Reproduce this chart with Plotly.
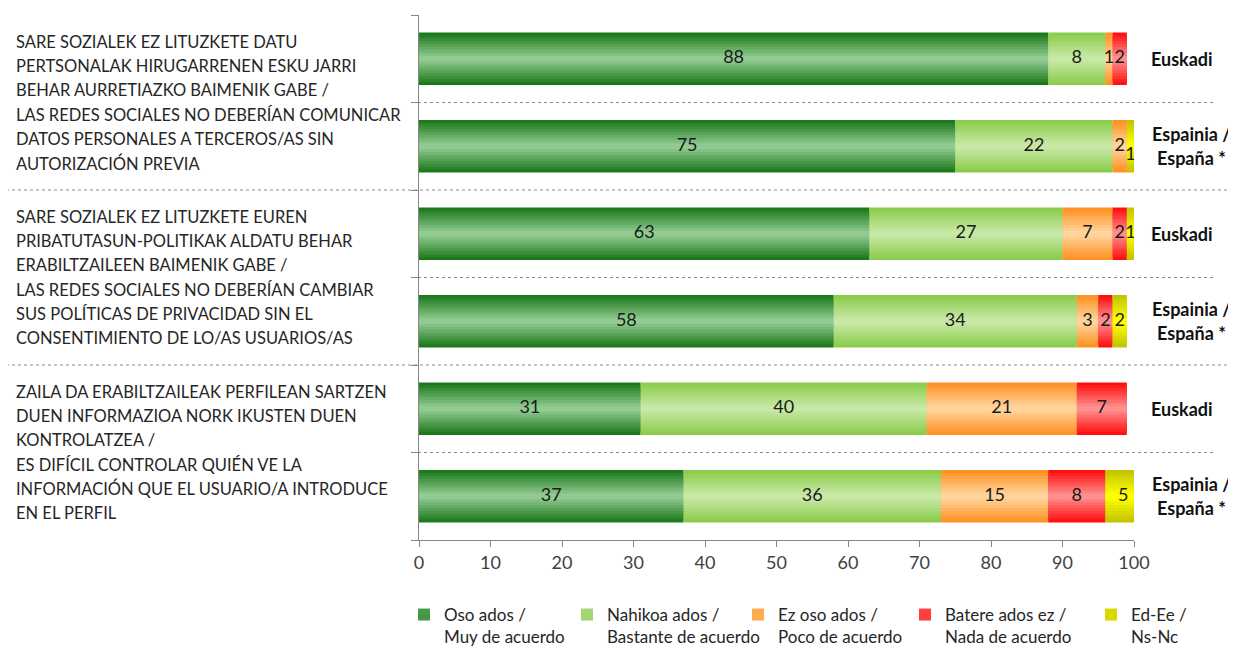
import numpy as np
import plotly.graph_objects as go

# ─────────────────────────────────────────────────────────────
# Data
# ─────────────────────────────────────────────────────────────
row_labels = ["Euskadi", "Espainia /<br>España *",
              "Euskadi", "Espainia /<br>España *",
              "Euskadi", "Espainia /<br>España *"]

question_lines = [
    ["SARE SOZIALEK EZ LITUZKETE DATU",
     "PERTSONALAK HIRUGARRENEN ESKU JARRI",
     "BEHAR AURRETIAZKO BAIMENIK GABE /",
     "LAS REDES SOCIALES NO DEBERÍAN COMUNICAR",
     "DATOS PERSONALES A TERCEROS/AS SIN",
     "AUTORIZACIÓN PREVIA"],
    ["SARE SOZIALEK EZ LITUZKETE EUREN",
     "PRIBATUTASUN-POLITIKAK ALDATU BEHAR",
     "ERABILTZAILEEN BAIMENIK GABE /",
     "LAS REDES SOCIALES NO DEBERÍAN CAMBIAR",
     "SUS POLÍTICAS DE PRIVACIDAD SIN EL",
     "CONSENTIMIENTO DE LO/AS USUARIOS/AS"],
    ["ZAILA DA ERABILTZAILEAK PERFILEAN SARTZEN",
     "DUEN INFORMAZIOA NORK IKUSTEN DUEN",
     "KONTROLATZEA /",
     "ES DIFÍCIL CONTROLAR QUIÉN VE LA",
     "INFORMACIÓN QUE EL USUARIO/A INTRODUCE",
     "EN EL PERFIL"],
]

series_names = ["Oso ados /<br>Muy de acuerdo",
                "Nahikoa ados /<br>Bastante de acuerdo",
                "Ez oso ados /<br>Poco de acuerdo",
                "Batere ados ez /<br>Nada de acuerdo",
                "Ed-Ee /<br>Ns-Nc"]

oso_ados = [88, 75, 63, 58, 31, 37]
nahikoa_ados = [8, 22, 27, 34, 40, 36]
ez_oso_ados = [1, 2, 7, 3, 21, 15]
batere_ados_ez = [2, 0, 2, 2, 7, 8]
ed_ee = [0, 1, 1, 2, 0, 5]

x_ticks = [0, 10, 20, 30, 40, 50, 60, 70, 80, 90, 100]

# ─────────────────────────────────────────────────────────────
# Style
# ─────────────────────────────────────────────────────────────
FONT = "Lato, 'Open Sans', sans-serif"
TEXT = "#262626"
AXIS = "#868686"
BAR_W = 0.6
LAYERS = 9

# (edge colour, centre colour) to fake Excel's gradient fill
COLORS = [
    ((28, 122, 28), (146, 202, 146)),
    ((140, 204, 76), (200, 232, 166)),
    ((255, 146, 36), (255, 212, 156)),
    ((255, 16, 16), (255, 142, 142)),
    ((196, 196, 0), (255, 255, 0)),
]
# screen x of each legend swatch
LEGEND_X = [420, 583, 754, 921, 1107]

# page body has an 8px margin -> work in screen px and shift
OFF = 8
W, H = 1236 - OFF, 650 - OFF
L, T = 419 - OFF, 15 - OFF
R, B = W - (1134 - OFF), H - (540 - OFF)
PW, PH = W - L - R, H - T - B


def mix(a, b, t):
    return "rgb({},{},{})".format(*[round(a[i] + (b[i] - a[i]) * t) for i in range(3)])


def px_x(px):
    return (px - OFF - L) / PW


def px_y(py):
    return 1 - (py - OFF - T) / PH


def legend_id(s):
    return "legend" if s == 0 else f"legend{s + 1}"


values = np.array([oso_ados, nahikoa_ados, ez_oso_ados, batere_ados_ez, ed_ee])
starts = np.vstack([np.zeros(values.shape[1]), np.cumsum(values, axis=0)[:-1]])
rows = list(range(len(row_labels)))

fig = go.Figure()

for k in range(LAYERS):
    t = k / (LAYERS - 1)
    for s, name in enumerate(series_names):
        fig.add_trace(go.Bar(
            y=rows, x=values[s], base=starts[s],
            orientation="h",
            width=BAR_W * (1 - k / LAYERS),
            marker=dict(color=mix(*COLORS[s], t), line=dict(width=0)),
            name=name,
            legend=legend_id(s),
            showlegend=(k == 3),
            hoverinfo="skip",
        ))

# value labels
for s in range(len(series_names)):
    mids = starts[s] + values[s] / 2
    txt = [str(v) if v > 0 else "" for v in values[s]]
    pos = ["middle center"] * len(rows)
    if s == 4:
        pos[1] = "bottom center"   # Excel pushes the squeezed "1" down
    fig.add_trace(go.Scatter(
        y=rows, x=mids, mode="text", text=txt, textposition=pos,
        textfont=dict(family=FONT, size=18, color="#1a1a1a"),
        showlegend=False, hoverinfo="skip",
    ))

annotations = []
# left question text, centred on the boundary of each pair of rows
for g, lines in enumerate(question_lines):
    yc = 2 * g + 0.5
    n = len(lines)
    for i, line in enumerate(lines):
        annotations.append(dict(
            xref="paper", yref="y", x=px_x(14), y=yc,
            xanchor="left", yanchor="middle",
            yshift=((n - 1) / 2 - i) * 24.2,
            text=line, showarrow=False,
            font=dict(family=FONT, size=16.5, color=TEXT),
        ))

# right row labels
for r, lab in enumerate(row_labels):
    parts = lab.split("<br>")
    n = len(parts)
    for i, p in enumerate(parts):
        single = n == 1
        annotations.append(dict(
            xref="paper", yref="y",
            x=px_x(1149) if single else px_x(1191), y=r,
            xanchor="left" if single else "center", yanchor="middle",
            yshift=((n - 1) / 2 - i) * 24,
            text=f"<b>{p}</b>", showarrow=False,
            font=dict(family=FONT, size=18, color="#111111"),
        ))

shapes = []
for r in range(len(rows) - 1):
    b = r + 0.5
    full = (r % 2 == 1)
    shapes.append(dict(
        type="line", xref="paper", yref="y",
        x0=px_x(0) if full else px_x(412), x1=px_x(1236) if full else px_x(1216),
        y0=b, y1=b,
        line=dict(color="#8c8c8c", width=1, dash="dot"),
        layer="below",
    ))

legends = {}
for s, lx in enumerate(LEGEND_X):
    legends[legend_id(s)] = dict(
        orientation="h", x=px_x(lx - 16), xanchor="left",
        y=px_y(597), yanchor="top", valign="top",
        font=dict(family=FONT, size=17, color=TEXT),
        itemwidth=30, bgcolor="rgba(0,0,0,0)",
    )

fig.update_layout(
    width=W, height=H,
    barmode="overlay",
    paper_bgcolor="white", plot_bgcolor="white",
    margin=dict(l=L, r=R, t=T, b=B, autoexpand=False),
    font=dict(family=FONT, size=16, color=TEXT),
    xaxis=dict(
        range=[0, 100], tickvals=x_ticks,
        showgrid=False, zeroline=False,
        showline=True, linecolor=AXIS, linewidth=1,
        ticks="outside", ticklen=6, tickcolor=AXIS,
        tickfont=dict(family=FONT, size=18, color="#404040"),
    ),
    yaxis=dict(
        range=[len(rows) - 0.5, -0.5],
        tickvals=[r - 0.5 for r in range(len(rows) + 1)],
        showticklabels=False, showgrid=False, zeroline=False,
        showline=True, linecolor=AXIS, linewidth=1,
        ticks="outside", ticklen=7, tickcolor=AXIS,
    ),
    annotations=annotations,
    shapes=shapes,
    **legends,
)

fig.write_html("out.html")
